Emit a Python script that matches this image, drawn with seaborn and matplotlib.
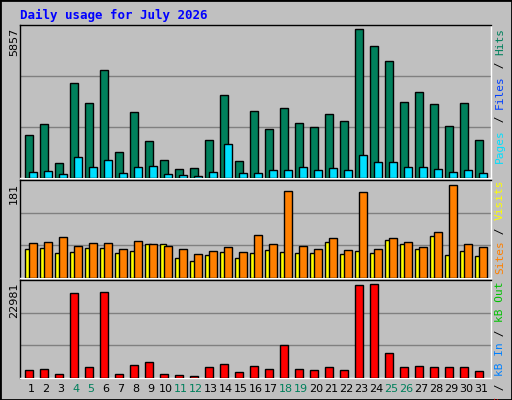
import numpy as np
import pandas as pd
import matplotlib
matplotlib.use("Agg")
import matplotlib.pyplot as plt
import seaborn as sns
from matplotlib.patches import Rectangle

days = list(range(1, 32))
weekend = [4, 5, 11, 12, 18, 19, 25, 26]
hits = [1683, 2120, 610, 3750, 2955, 4267, 1007, 2597, 1444, 729, 371, 411, 1484, 3273, 689, 2637,
        1921, 2756, 2160, 2001, 2518, 2239, 5857, 5221, 4624, 2995, 3392, 2915, 2041, 2955, 1484]
files = [252, 292, 172, 808, 451, 729, 212, 451, 490, 172, 133, 93, 252, 1325, 212, 212,
         331, 331, 451, 331, 411, 331, 888, 649, 649, 451, 451, 371, 252, 331, 212]
sites = [67, 69, 79, 63, 67, 67, 57, 71, 65, 63, 57, 47, 53, 61, 51, 83, 65, 169, 63, 57, 77, 55,
         167, 57, 77, 69, 61, 89, 181, 65, 61]
visits = [57, 59, 49, 51, 59, 59, 49, 53, 65, 65, 39, 33, 45, 51, 39, 49, 55, 51, 49, 49, 69, 47,
          53, 49, 73, 65, 57, 81, 45, 53, 43]
kbytes = [1845, 2097, 1090, 20715, 2600, 20967, 1090, 3103, 3858, 1090, 839, 587, 2600, 3355, 1342,
          2852, 2097, 8135, 2097, 1845, 2600, 1845, 22729, 22981, 6122, 2600, 2852, 2600, 2600, 2600, 1594]

BG = "#C0C0C0"
sns.set_theme(style="white")
plt.rcParams['font.family'] = ['DejaVu Sans']
fig = plt.figure(figsize=(5.12, 4.0), dpi=100, facecolor=BG)
W, H = 512, 400
fig.patches.append(Rectangle((0, 0), 1, 1, transform=fig.transFigure, fill=False,
                             edgecolor="black", linewidth=2))

def panel(y0, y1):
    ax = fig.add_axes([20 / W, 1 - y1 / H, 471 / W, (y1 - y0) / H])
    ax.set_facecolor(BG)
    for s in ax.spines.values():
        s.set_color("black"); s.set_linewidth(1)
    ax.spines["right"].set_color("white"); ax.spines["bottom"].set_color("white")
    return ax

d = np.array(days, dtype=float)

def bars(ax, x, y, color, width=0.53):
    sns.barplot(x=x, y=y, native_scale=True, width=width, color=color, saturation=1,
                edgecolor="black", linewidth=1, ax=ax, zorder=3)

def finish(ax, vmax, top, label_y):
    ax.set_ylim(0, top)
    for f in (1 / 3, 2 / 3):
        ax.axhline(top * f, color="#808080", lw=1, zorder=1)
    ax.set_xlim(0.27, 31.67)
    ax.set_xticks([]); ax.set_yticks([])
    ax.set_xlabel(""); ax.set_ylabel("")
    fig.text(14 / W, 1 - label_y / H, str(vmax), rotation=90, ha="center", va="top",
             fontsize=8, color="black")

ax1 = panel(25, 178)
bars(ax1, d - 0.13, hits, "#00805C")
bars(ax1, d + 0.13, files, "#00E0FF")
finish(ax1, 5857, 6030, 28)

ax2 = panel(180, 278)
bars(ax2, d - 0.2, visits, "#FFFF00", width=0.4)
bars(ax2, d + 0.13, sites, "#FF8000")
finish(ax2, 181, 190, 183)

ax3 = panel(280, 378)
bars(ax3, d - 0.13, kbytes, "#FF0000")
finish(ax3, 22981, 23900, 283)

for dd in days:
    fig.text((20 + (dd - 0.27) * 15) / W, 1 - 389 / H, str(dd), ha="center", va="center",
             fontsize=8, color="#00805C" if dd in weekend else "black")

fig.text(20 / W, 1 - 15 / H, "Daily usage for July 2026", ha="left", va="center",
         fontsize=9, fontweight="bold", family="DejaVu Sans Mono", color="#0000FF")

fig.canvas.draw()
renderer = fig.canvas.get_renderer()

def side(parts, y_top):
    y = y_top
    for txt, col in reversed(parts):
        t = fig.text(500 / W, 1 - y / H, txt, rotation=90, ha="center", va="top",
                     fontsize=8, family="DejaVu Sans Mono", color=col)
        bb = t.get_window_extent(renderer=renderer)
        y += bb.height

side([("Pages", "#00E0FF"), (" / ", "black"), ("Files", "#0040FF"), (" / ", "black"), ("Hits", "#00805C")], 28)
side([("Sites", "#FF8000"), (" / ", "black"), ("Visits", "#FFFF00")], 180)
side([("kB F", "#FF0000"), (" / ", "black"), ("kB In", "#0080FF"), (" / ", "black"), ("kB Out", "#00C000")], 282)

fig.savefig("out.png", dpi=100, facecolor=BG)
